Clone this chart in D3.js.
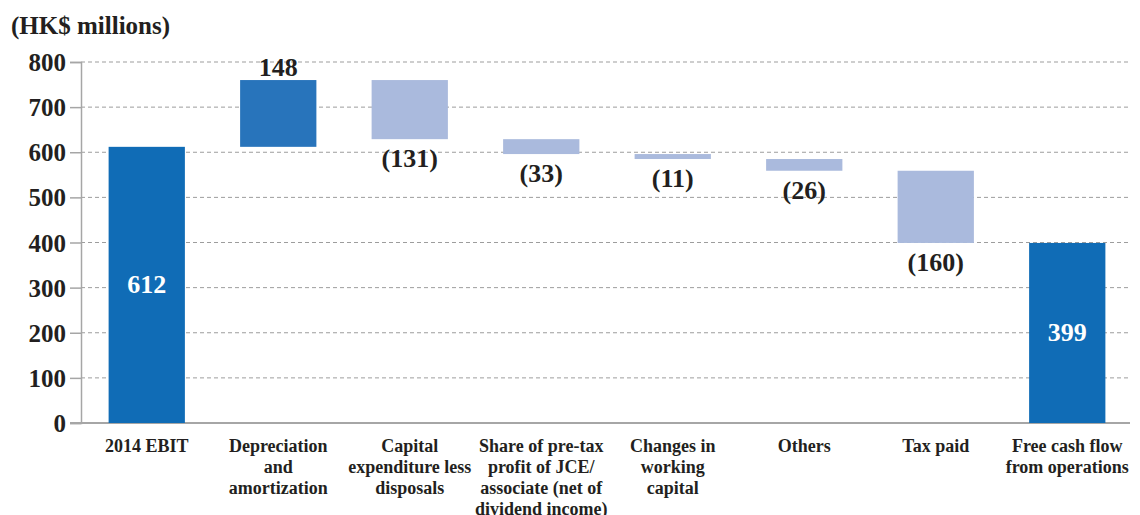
<!DOCTYPE html>
<html>
<head>
<meta charset="utf-8">
<script src="https://cdn.jsdelivr.net/npm/d3@7"></script>
<style>
  body { margin: 0; background: #fff; }
</style>
</head>
<body>
<div id="chart"></div>
<script>
// data
const categories = [
    ['2014 EBIT'],
    ['Depreciation', 'and', 'amortization'],
    ['Capital', 'expenditure less', 'disposals'],
    ['Share of pre-tax', 'profit of JCE/', 'associate (net of', 'dividend income)'],
    ['Changes in', 'working', 'capital'],
    ['Others'],
    ['Tax paid'],
    ['Free cash flow', 'from operations']
];
const changes = [612, 148, -131, -33, -11, -26, -160, 399];
const kinds = ['total', 'up', 'down', 'down', 'down', 'down', 'down', 'total'];
const yTicks = [0, 100, 200, 300, 400, 500, 600, 700, 800];

const WIDTH = 1140, HEIGHT = 515;
const MARGIN = { TOP: 62, LEFT: 81, RIGHT: 7, BOTTOM: 92 };
const FONT = '"Liberation Serif", "Times New Roman", serif';
const INK = '#231f20';

const svg = d3.select('#chart').append('svg')
    .attr('width', WIDTH)
    .attr('height', HEIGHT);

// build the waterfall steps
let running = 0;
const steps = changes.map((v, i) => {
    let start, end;
    if (kinds[i] === 'total') { start = 0; end = v; running = v; }
    else { start = running; end = running + v; running = end; }
    return { i, v, kind: kinds[i], lo: Math.min(start, end), hi: Math.max(start, end) };
});

const x = d3.scaleBand()
    .domain(d3.range(categories.length))
    .range([MARGIN.LEFT, WIDTH - MARGIN.RIGHT])
    .paddingInner(0.42)
    .paddingOuter(0.21);

const y = d3.scaleLinear()
    .domain([0, 800])
    .range([HEIGHT - MARGIN.BOTTOM, MARGIN.TOP]);

// gridlines
svg.append('g')
    .selectAll('line')
    .data(yTicks.filter(d => d > 0))
    .join('line')
    .attr('x1', MARGIN.LEFT)
    .attr('x2', WIDTH - 10)
    .attr('y1', d => y(d))
    .attr('y2', d => y(d))
    .attr('stroke', '#9d9d9d')
    .attr('stroke-width', 1)
    .attr('stroke-dasharray', '4,3');

// y axis
const yAxis = svg.append('g')
    .attr('transform', `translate(${MARGIN.LEFT},0)`)
    .call(d3.axisLeft(y).tickValues(yTicks).tickSize(11).tickPadding(4));
yAxis.select('.domain').attr('stroke', '#a6a6a6').attr('stroke-width', 1.5);
yAxis.selectAll('.tick line').attr('stroke', '#a6a6a6').attr('stroke-width', 1.5);
yAxis.selectAll('.tick text')
    .style('font-family', FONT)
    .style('font-weight', 'bold')
    .style('font-size', '25px')
    .style('fill', INK)
    .attr('dy', '0.34em');

// baseline
svg.append('line')
    .attr('x1', MARGIN.LEFT - 11)
    .attr('x2', WIDTH - 10)
    .attr('y1', y(0))
    .attr('y2', y(0))
    .attr('stroke', '#a6a6a6')
    .attr('stroke-width', 2);

const colors = { total: '#106cb6', up: '#2874bb', down: '#aabadd' };

svg.append('g')
    .selectAll('rect')
    .data(steps)
    .join('rect')
    .attr('x', d => x(d.i))
    .attr('width', x.bandwidth())
    .attr('y', d => y(d.hi))
    .attr('height', d => y(d.lo) - y(d.hi))
    .attr('fill', d => colors[d.kind]);

// value labels
svg.append('g')
    .selectAll('text')
    .data(steps)
    .join('text')
    .attr('x', d => x(d.i) + x.bandwidth() / 2)
    .attr('y', d => {
        if (d.kind === 'total') return y((d.lo + d.hi) / 2) + 8;
        if (d.kind === 'up') return y(d.hi) - 4;
        return y(d.lo) + 28;
    })
    .attr('text-anchor', 'middle')
    .style('font-family', FONT)
    .style('font-weight', 'bold')
    .style('font-size', '26px')
    .style('fill', d => d.kind === 'total' ? '#fff' : INK)
    .text(d => d.v < 0 ? `(${-d.v})` : d.v);

// category labels
const cat = svg.append('g')
    .selectAll('text')
    .data(categories)
    .join('text')
    .attr('x', (d, i) => x(i) + x.bandwidth() / 2)
    .attr('y', y(0) + 29)
    .attr('text-anchor', 'middle')
    .style('font-family', FONT)
    .style('font-weight', 'bold')
    .style('font-size', '18px')
    .style('fill', INK);
cat.selectAll('tspan')
    .data(d => d)
    .join('tspan')
    .attr('x', function () { return this.parentNode.getAttribute('x'); })
    .attr('dy', (d, j) => j === 0 ? 0 : 21)
    .text(d => d);

// unit title
svg.append('text')
    .attr('x', 11)
    .attr('y', 34)
    .style('font-family', FONT)
    .style('font-weight', 'bold')
    .style('font-size', '25px')
    .style('fill', INK)
    .text('(HK$ millions)');
</script>
</body>
</html>
